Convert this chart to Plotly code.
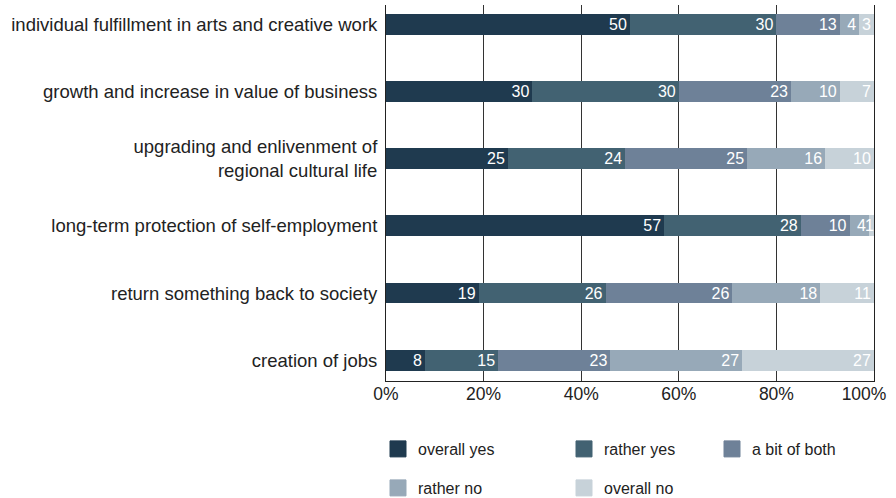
import plotly.graph_objects as go

# Motives, top to bottom
categories = [
    "individual fulfillment in arts and creative work",
    "growth and increase in value of business",
    "upgrading and enlivenment of<br>regional cultural life",
    "long-term protection of self-employment",
    "return something back to society",
    "creation of jobs",
]

# Share of answers per motive (%)
overall_yes = [50, 30, 25, 57, 19, 8]
rather_yes = [30, 30, 24, 28, 26, 15]
a_bit_of_both = [13, 23, 25, 10, 26, 23]
rather_no = [4, 10, 16, 4, 18, 27]
overall_no = [3, 7, 10, 1, 11, 27]

series_names = ["overall yes", "rather yes", "a bit of both", "rather no", "overall no"]
series_values = [overall_yes, rather_yes, a_bit_of_both, rather_no, overall_no]
colors = ["#1f3a4f", "#426272", "#6e8198", "#97a9b8", "#c7d2d9"]

x_ticks = [0, 20, 40, 60, 80, 100]

FONT = "Liberation Sans, Arial, Helvetica, sans-serif"
TEXT = "#222222"

fig = go.Figure()

for name, vals, col in zip(series_names, series_values, colors):
    fig.add_trace(go.Bar(
        y=categories,
        x=vals,
        orientation="h",
        name=name,
        marker=dict(color=col, line=dict(width=0)),
        width=0.31,
        text=[str(v) for v in vals],
        textposition="inside",
        insidetextanchor="end",
        textangle=0,
        textfont=dict(family=FONT, size=16, color="white"),
        showlegend=False,
        hoverinfo="skip",
    ))

# Legend entries: one small legend per entry so the grid of keys can be placed freely
legend_slots = [
    ("legend", 0),
    ("legend2", 1),
    ("legend3", 2),
    ("legend4", 3),
    ("legend5", 4),
]
for (lg, i) in legend_slots:
    fig.add_trace(go.Scatter(
        x=[None], y=[None],
        mode="markers",
        name=series_names[i],
        marker=dict(symbol="square", size=16, color=colors[i],
                    line=dict(width=1, color=colors[i])),
        legend=lg,
        showlegend=True,
        hoverinfo="skip",
    ))

# empty trace that carries the overlay axis used for the last tick label
fig.add_trace(go.Scatter(x=[None], y=[None], xaxis="x2", showlegend=False,
                         hoverinfo="skip"))

W, H = 896, 498
# (left x of key, centre y of key) in pixels for each legend entry
key_pos = {
    "legend": (389, 449),
    "legend2": (575, 449),
    "legend3": (723, 449),
    "legend4": (389, 488),
    "legend5": (575, 488),
}
legend_layout = {}
for lg, (px, py) in key_pos.items():
    legend_layout[lg] = dict(
        x=(px - 11) / W,
        y=1 - py / H,
        xref="container",
        yref="container",
        xanchor="left",
        yanchor="middle",
        orientation="v",
        bgcolor="rgba(0,0,0,0)",
        borderwidth=0,
        font=dict(family=FONT, size=16, color=TEXT),
        itemclick=False,
        itemdoubleclick=False,
    )

tick_font = dict(family=FONT, size=17.5, color=TEXT)

fig.update_layout(
    width=W,
    height=H,
    barmode="stack",
    paper_bgcolor="white",
    plot_bgcolor="white",
    margin=dict(l=386, r=22, t=5, b=117, autoexpand=False),
    font=dict(family=FONT, color=TEXT),
    uniformtext=dict(mode="show", minsize=16),
    xaxis=dict(
        range=[0, 100],
        tickvals=x_ticks,
        ticktext=[f"{v}%" if v < 100 else "" for v in x_ticks],
        showgrid=True,
        gridcolor="#333333",
        gridwidth=1,
        zeroline=False,
        showline=True,
        linecolor="#222222",
        linewidth=1,
        ticks="",
        automargin=False,
        ticklabeloverflow="allow",
        ticklabelstandoff=-3,
        tickfont=tick_font,
        fixedrange=True,
    ),
    # overlay axis: same scale, only the 100% label, pulled slightly left
    xaxis2=dict(
        overlaying="x",
        side="bottom",
        anchor="y",
        matches="x",
        range=[0, 100],
        tickvals=[x_ticks[-1]],
        ticktext=[f"{x_ticks[-1]}%"],
        showgrid=False,
        zeroline=False,
        showline=False,
        ticks="",
        automargin=False,
        ticklabeloverflow="allow",
        ticklabelstandoff=0,
        ticklabelshift=-10,
        tickfont=tick_font,
        fixedrange=True,
    ),
    yaxis=dict(
        type="category",
        categoryorder="array",
        categoryarray=categories,
        range=[5.31, -0.29],
        showgrid=False,
        zeroline=False,
        showline=True,
        mirror=True,
        linecolor="#222222",
        linewidth=1,
        ticks="",
        automargin=False,
        ticklabelstandoff=4,
        tickfont=dict(family=FONT, size=18.5, color=TEXT),
        fixedrange=True,
    ),
    **legend_layout,
)

fig.write_html("out.html")
